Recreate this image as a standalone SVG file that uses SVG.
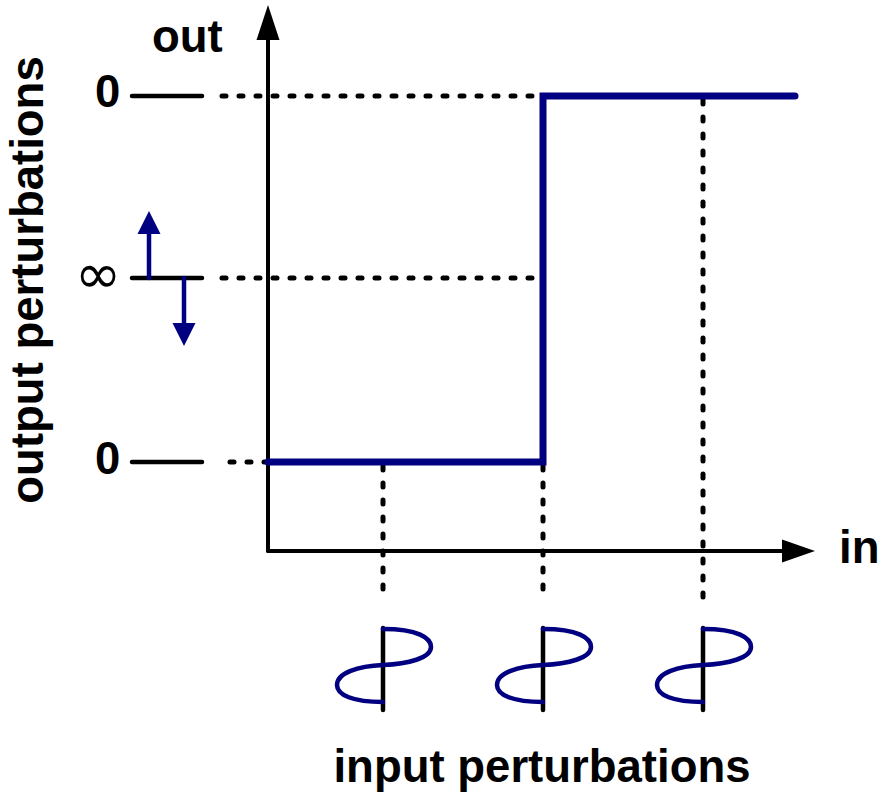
<svg xmlns="http://www.w3.org/2000/svg" width="880" height="793" viewBox="0 0 880 793">
<style>
.lbl{font-family:"Liberation Sans",Arial,sans-serif;font-weight:bold;font-size:45.5px;fill:#000}
.axis{stroke:#000;stroke-width:4;fill:none;stroke-linecap:round}
.tick{stroke:#000;stroke-width:4.5;fill:none;stroke-linecap:round}
.dot{stroke:#000;stroke-width:5;fill:none;stroke-linecap:round;stroke-dasharray:4 13}
.curve{stroke:#000080;stroke-width:7;fill:none;stroke-linecap:round;stroke-linejoin:miter}
.pert{stroke:#000080;stroke-width:4.5;fill:none;stroke-linecap:round}
.bar{stroke:#000;stroke-width:4.5;fill:none;stroke-linecap:round}
</style>
<defs>
<path id="wave" class="pert" d="M0,629 C35,629 48,638 48,647 C48,658 25,664 0,665 C-25,666 -46,673 -46,685 C-46,695 -30,702 0,702"/>
</defs>
<rect width="880" height="793" fill="#fff"/>
<g id="connectors">
<path class="dot" d="M222,96 H540"/>
<path class="dot" d="M222,278 H540"/>
<path class="dot" d="M230,462 H266"/>
<path class="dot" d="M383,466 V598"/>
<path class="dot" d="M543,466 V598"/>
<path class="dot" d="M703,100 V598"/>
</g>
<g id="axes">
<path class="axis" d="M268,551 V38"/>
<polygon points="268,5 256.5,40 279.5,40" fill="#000"/>
<path class="axis" d="M268,551 H784"/>
<polygon points="815,551 782,539.5 782,562.5" fill="#000"/>
<text class="lbl" x="152" y="52">out</text>
<text class="lbl" x="839" y="563">in</text>
</g>
<g id="y-ticks">
<text class="lbl" x="95" y="107">0</text>
<path class="tick" d="M132,96 H202"/>
<text x="98" y="293" font-family="DejaVu Sans,sans-serif" font-size="56" text-anchor="middle">∞</text>
<path class="tick" d="M132,278 H202"/>
<text class="lbl" x="95" y="474">0</text>
<path class="tick" d="M132,462 H202"/>
<text class="lbl" transform="translate(43,280) rotate(-90)" text-anchor="middle">output perturbations</text>
</g>
<g id="output-arrows">
<path class="pert" d="M149,278 V232"/>
<polygon points="149,211 137.5,234 160.5,234" fill="#000080"/>
<path class="pert" d="M184,278 V324"/>
<polygon points="184,346 172.5,323 195.5,323" fill="#000080"/>
</g>
<g id="transfer-curve">
<path class="curve" d="M268,462 H543 V96 H795"/>
</g>
<g id="input-pert-1">
<path class="bar" d="M383,628 V710"/>
<use href="#wave" x="383"/>
</g>
<g id="input-pert-2">
<path class="bar" d="M543,628 V710"/>
<use href="#wave" x="543"/>
</g>
<g id="input-pert-3">
<path class="bar" d="M703,628 V710"/>
<use href="#wave" x="703"/>
</g>
<text class="lbl" x="542" y="782" text-anchor="middle">input perturbations</text>
</svg>
